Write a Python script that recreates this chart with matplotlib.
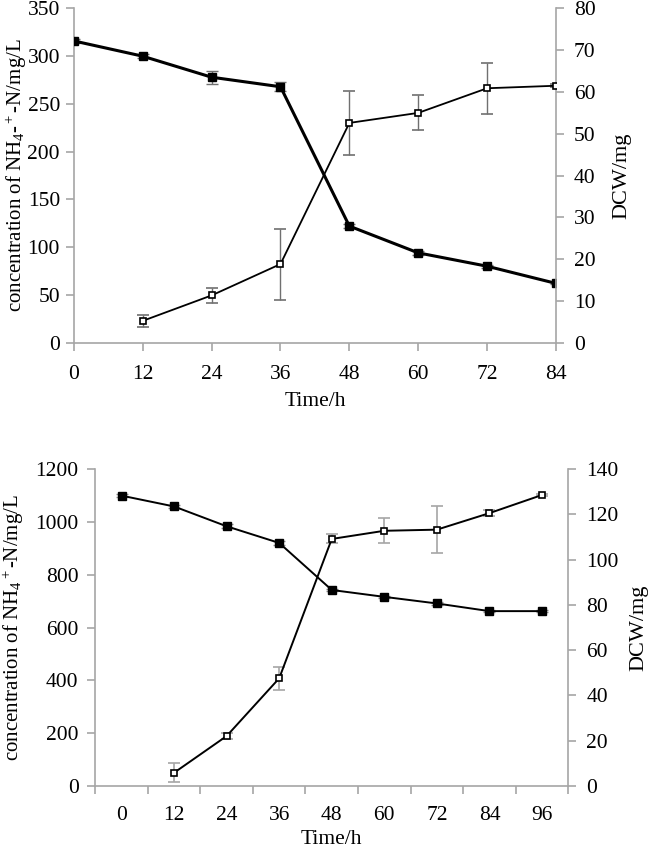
import matplotlib

matplotlib.use("Agg")

import matplotlib.pyplot as plt
import numpy as np

plt.rcParams["font.family"] = ["Liberation Serif", "DejaVu Serif"]
plt.rcParams["mathtext.fontset"] = "custom"
plt.rcParams["mathtext.rm"] = "Liberation Serif"
plt.rcParams["mathtext.it"] = "Liberation Serif"

# top panel
time_a = [0, 12, 24, 36, 48, 60, 72, 84]
nh4_a = [316, 300, 278, 268, 122, 94, 80, 62]
nh4_a_err = [2, 2, 7, 4.5, 2, 2, 1.5, 1]
time_a_dcw = [12, 24, 36, 48, 60, 72, 84]
dcw_a = [5.2, 11.3, 18.8, 52.6, 55.0, 60.9, 61.5]
dcw_a_err = [1.35, 1.8, 8.5, 7.7, 4.2, 6.1, 0.3]

# bottom panel
time_b = [0, 12, 24, 36, 48, 60, 72, 84, 96]
nh4_b = [1099, 1058, 983, 920, 742, 716, 691, 662, 662]
nh4_b_err = [6, 5, 8, 6, 5, 5, 4, 4, 3]
time_b_dcw = [12, 24, 36, 48, 60, 72, 84, 96]
dcw_b = [5.9, 22.1, 47.6, 109.1, 112.7, 113.2, 120.5, 128.5]
dcw_b_err = [4.2, 1.5, 5.0, 2.0, 5.5, 10.5, 1.3, 0.3]

AXIS_GRAY = "#a6a6a6"
FS = 15.5


def style_axes(ax, ax2):
    for a in (ax, ax2):
        a.spines["top"].set_visible(False)
        for side in ("left", "right", "bottom"):
            a.spines[side].set_color(AXIS_GRAY)
            a.spines[side].set_linewidth(1.2)
        a.tick_params(colors=AXIS_GRAY, labelcolor="black", labelsize=FS,
                      direction="out", length=6, width=1.2, pad=7)
    ax.tick_params(axis="y", pad=4)
    ax.spines["right"].set_visible(False)
    ax2.spines["left"].set_visible(False)
    ax2.spines["bottom"].set_visible(False)


fig = plt.figure(figsize=(6.48, 8.48), dpi=100)

# ---- top chart ----
ax = fig.add_axes([0.114, 0.596, 0.744, 0.394])
ax2 = ax.twinx()
ax.errorbar(time_a, nh4_a, yerr=nh4_a_err, color="black", lw=2.2,
            marker="s", ms=6, mfc="black", mec="black",
            ecolor="#707070", elinewidth=1.0, capsize=4, capthick=1.0, zorder=3)
ax2.errorbar(time_a_dcw, dcw_a, yerr=dcw_a_err, color="black", lw=1.3,
             marker="s", ms=5, mfc="white", mec="black", mew=1.2,
             ecolor="#707070", elinewidth=1.0, capsize=4, capthick=1.0, zorder=3)
ax.set_xlim(0, 84)
ax.set_xticks(time_a)
ax.set_ylim(0, 350)
ax.set_yticks(np.arange(0, 351, 50))
ax2.set_ylim(0, 80)
ax2.set_yticks(np.arange(0, 81, 10))
style_axes(ax, ax2)
ax.tick_params(axis="x", pad=10)
ax.set_xlabel("Time/h", fontsize=FS, labelpad=6)
ax.set_ylabel(r"concentration of NH$_4$-$^+$-N/mg/L", fontsize=15)
ax.yaxis.set_label_coords(-0.094, 0.5)
ax2.set_ylabel("DCW/mg", fontsize=16, labelpad=12)

# ---- bottom chart ----
bx = fig.add_axes([0.147, 0.073, 0.730, 0.374])
bx2 = bx.twinx()
bx.errorbar(time_b, nh4_b, yerr=nh4_b_err, color="black", lw=1.4,
            marker="s", ms=6, mfc="black", mec="black",
            ecolor="#8c8c8c", elinewidth=1.0, capsize=4, capthick=1.0, zorder=3)
bx2.errorbar(time_b_dcw, dcw_b, yerr=dcw_b_err, color="black", lw=1.4,
             marker="s", ms=5, mfc="white", mec="black", mew=1.2,
             ecolor="#a6a6a6", elinewidth=1.2, capsize=4, capthick=1.2, zorder=3)
bx.set_xlim(-6, 102)
bx.set_xticks(time_b)
bx.set_xticks(np.arange(-6, 103, 12), minor=True)
bx.set_ylim(0, 1200)
bx.set_yticks(np.arange(0, 1201, 200))
bx2.set_ylim(0, 140)
bx2.set_yticks(np.arange(0, 141, 20))
style_axes(bx, bx2)
bx.tick_params(axis="y", pad=6)
bx.tick_params(axis="x", which="major", length=0, pad=14)
bx.tick_params(axis="x", which="minor", colors=AXIS_GRAY, direction="out",
               length=6, width=1.2)
bx.set_xlabel("Time/h", fontsize=FS, labelpad=4)
bx.set_ylabel(r"concentration of NH$_4$$^+$-N/mg/L", fontsize=15)
bx.yaxis.set_label_coords(-0.146, 0.5)
bx2.set_ylabel("DCW/mg", fontsize=16, labelpad=8)

fig.savefig("out.png", dpi=100)
